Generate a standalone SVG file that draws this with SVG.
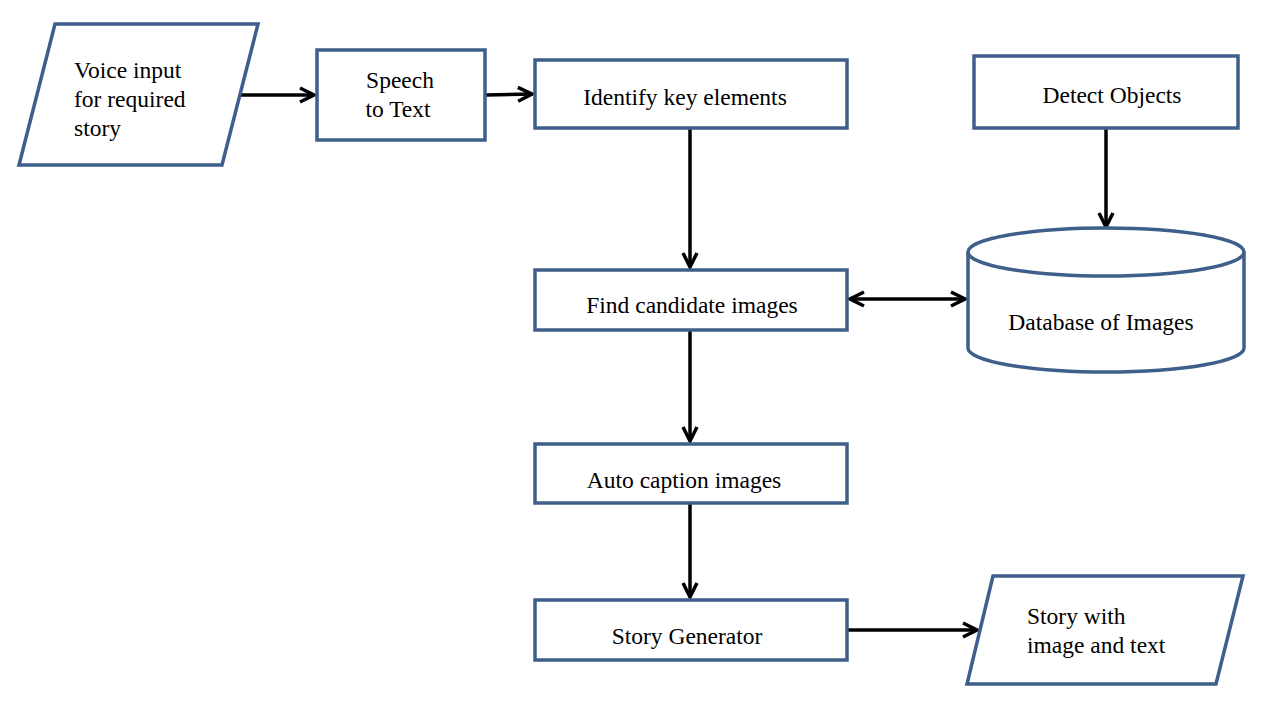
<svg xmlns="http://www.w3.org/2000/svg" width="1265" height="703" viewBox="0 0 1265 703">
<style>
.n{fill:#fff;stroke:#3e5f8a;stroke-width:3.5;stroke-linejoin:miter}
.t{font-family:"Liberation Serif","Times New Roman",serif;font-size:23.5px;fill:#000}
.c{fill:none;stroke:#000;stroke-width:3.5}
</style>
<defs>
<marker id="a" viewBox="0 0 10 10" refX="9" refY="5" markerWidth="5" markerHeight="5" orient="auto-start-reverse" markerUnits="strokeWidth">
<path d="M1,1 L9,5 L1,9" fill="none" stroke="#000" stroke-width="2"/>
</marker>
</defs>
<rect width="1265" height="703" fill="#fff"/>
<g id="connectors">
<line class="c" x1="241" y1="95" x2="314" y2="95" marker-end="url(#a)"/>
<line class="c" x1="486" y1="95" x2="532" y2="94" marker-end="url(#a)"/>
<line class="c" x1="690" y1="128" x2="690" y2="267" marker-end="url(#a)"/>
<line class="c" x1="850" y1="299" x2="965" y2="299" marker-start="url(#a)" marker-end="url(#a)"/>
<line class="c" x1="1106" y1="128" x2="1106" y2="227" marker-end="url(#a)"/>
<line class="c" x1="690" y1="330" x2="690" y2="441" marker-end="url(#a)"/>
<line class="c" x1="690" y1="503" x2="690" y2="597" marker-end="url(#a)"/>
<line class="c" x1="848" y1="630" x2="977" y2="630" marker-end="url(#a)"/>
</g>
<g id="voice-input">
<polygon class="n" points="55,24 258,24 222,165 19,165"/>
<text class="t" x="74" y="78">Voice input</text>
<text class="t" x="74" y="107">for required</text>
<text class="t" x="74" y="136">story</text>
</g>
<g id="speech-to-text">
<rect class="n" x="317" y="50" width="168" height="90"/>
<text class="t" x="400" y="88" text-anchor="middle">Speech</text>
<text class="t" x="398" y="117" text-anchor="middle">to Text</text>
</g>
<g id="identify">
<rect class="n" x="535" y="60" width="312" height="68"/>
<text class="t" x="685" y="105" text-anchor="middle">Identify key elements</text>
</g>
<g id="detect">
<rect class="n" x="974" y="56" width="264" height="72"/>
<text class="t" x="1112" y="103" text-anchor="middle">Detect Objects</text>
</g>
<g id="find">
<rect class="n" x="535" y="270" width="312" height="60"/>
<text class="t" x="692" y="313" text-anchor="middle">Find candidate images</text>
</g>
<g id="database">
<path class="n" d="M968,252 A138,24 0 0 1 1244,252 L1244,348 A138,24 0 0 1 968,348 Z"/>
<path class="n" fill="none" d="M968,252 A138,24 0 0 0 1244,252"/>
<text class="t" x="1101" y="330" text-anchor="middle">Database of Images</text>
</g>
<g id="caption">
<rect class="n" x="535" y="444" width="312" height="59"/>
<text class="t" x="684" y="488" text-anchor="middle">Auto caption images</text>
</g>
<g id="generator">
<rect class="n" x="535" y="600" width="312" height="60"/>
<text class="t" x="687" y="644" text-anchor="middle">Story Generator</text>
</g>
<g id="output">
<polygon class="n" points="993,576 1243,576 1216,684 967,684"/>
<text class="t" x="1027" y="624">Story with</text>
<text class="t" x="1027" y="653">image and text</text>
</g>
</svg>
